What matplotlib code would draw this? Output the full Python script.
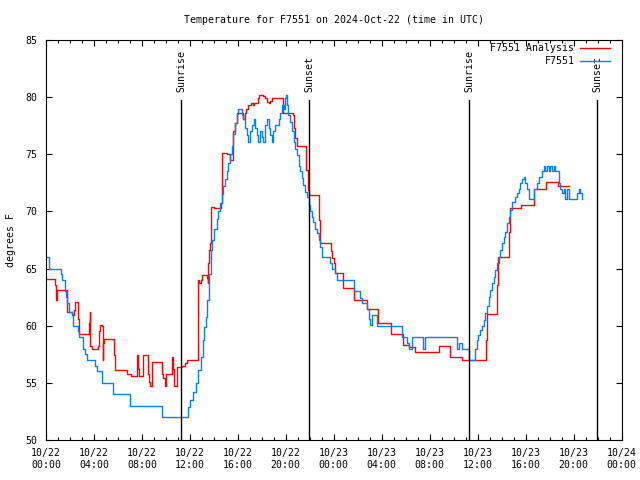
import pandas as pd
import numpy as np
from matplotlib import pyplot as plt
import matplotlib.dates as mdates

# hours since 2024-10-22 00:00 UTC, value holds until the next point
obs_hours = [0.11, 0.27, 1.23, 1.33, 1.58, 1.67, 1.78, 1.95, 2.15, 2.28, 2.64, 2.75, 3.07, 3.26,
             3.45, 4.09, 4.24, 4.70, 5.62, 7.01, 9.66, 11.88, 12.02, 12.29, 12.52, 12.71, 12.91,
             13.08, 13.21, 13.35, 13.46, 13.63, 13.75, 13.88, 14.05, 14.25, 14.38, 14.52, 14.67,
             14.80, 14.94, 15.08, 15.22, 15.36, 15.48, 15.63, 15.77, 15.92, 16.05, 16.34, 16.47,
             16.61, 16.75, 16.82, 17.03, 17.17, 17.31, 17.45, 17.59, 17.72, 17.86, 18.00, 18.13,
             18.28, 18.42, 18.56, 18.70, 18.84, 18.97, 19.11, 19.40, 19.54, 19.68, 19.81, 19.95,
             20.03, 20.09, 20.22, 20.36, 20.50, 20.65, 20.79, 20.93, 21.06, 21.20, 21.34, 21.47,
             21.61, 21.77, 21.90, 22.04, 22.18, 22.31, 22.45, 22.59, 22.73, 22.88, 23.02, 23.70,
             23.84, 24.13, 24.27, 25.65, 26.21, 26.35, 26.77, 26.90, 27.04, 27.18, 27.61, 29.69,
             30.11, 30.24, 30.53, 31.44, 31.64, 34.28, 34.41, 34.70, 35.25, 35.81, 35.95, 36.06,
             36.23, 36.37, 36.50, 36.64, 36.78, 36.91, 37.06, 37.21, 37.34, 37.48, 37.62, 37.75,
             37.89, 38.03, 38.18, 38.32, 38.46, 38.59, 38.73, 38.87, 39.14, 39.28, 39.43, 39.57,
             39.71, 39.84, 39.98, 40.12, 40.26, 40.68, 40.96, 41.09, 41.37, 41.51, 41.66, 41.80,
             41.93, 42.07, 42.21, 42.34, 42.48, 42.76, 42.91, 43.05, 43.18, 43.32, 43.46, 43.59,
             44.30, 44.43, 44.57, 44.71]
obs_temp = [66, 65, 64.5, 64, 63, 62.5, 62, 61.2, 61, 60, 59.5, 59, 58, 57.5,
            57, 56.5, 56, 55, 54, 53, 52, 52.9, 53.5, 54.2, 55.0, 56.1, 57.3,
            58.75, 59.9, 60.8, 62.25, 64.5, 66.6, 67.5, 68.5, 69.3, 70.0, 70.7, 71.5,
            72.2, 72.8, 73.5, 74.2, 75.0, 75.7, 76.8, 77.7, 78.5, 79.0, 78.4, 78.1,
            77.3, 76.7, 76.1, 77.0, 77.6, 78.1, 77.3, 76.7, 76.1, 77.0, 76.5, 76.1,
            77.6, 78.1, 77.3, 76.7, 76.1, 77.0, 77.6, 78.1, 78.6, 79.3, 79.0, 79.9,
            80.2, 79.3, 78.4, 77.8, 77.0, 76.1, 75.5, 74.9, 74.0, 73.5, 72.9, 72.3,
            71.7, 71.3, 70.6, 70.0, 69.5, 69.1, 68.5, 68.1, 67.5, 66.9, 66.0, 65.5,
            65.0, 64.6, 64.0, 63.0, 62.4, 62.0, 61.5, 60.6, 60.1, 60.9, 60.0, 59.0,
            58.5, 58.0, 59.0, 58.0, 59.0, 58.0, 58.5, 58.0, 57.0, 58.0, 58.75, 59.2,
            59.6, 60.0, 60.5, 61.1, 61.7, 62.5, 63.1, 63.7, 64.3, 64.9, 65.5, 66.0,
            66.6, 67.2, 67.8, 68.2, 69.0, 69.5, 70.1, 70.85, 71.3, 71.6, 72.0, 72.5,
            72.8, 73.0, 72.5, 72.0, 71.1, 72.0, 72.5, 73.0, 73.5, 74.0, 73.5, 74.0,
            73.5, 74.0, 73.5, 74.0, 73.5, 72.5, 72.0, 71.6, 72.0, 71.1, 72.0, 71.1,
            71.6, 72.0, 71.6, 71.1]

ana_hours = [0.06, 0.75, 0.81, 0.90, 1.72, 2.20, 2.36, 2.42, 2.69, 2.75, 3.59, 3.65, 3.70, 3.86,
             4.37, 4.45, 4.51, 4.67, 4.73, 4.78, 4.84, 5.68, 5.74, 6.79, 7.07, 7.57, 7.71, 7.77,
             8.12, 8.51, 8.62, 8.68, 8.88, 9.68, 9.79, 9.93, 10.02, 10.54, 10.63, 10.71, 10.96,
             11.33, 11.60, 11.74, 12.66, 12.71, 12.80, 12.91, 13.00, 13.41, 13.50, 13.55, 13.63,
             13.69, 13.75, 14.05, 14.58, 14.70, 15.08, 15.36, 15.63, 15.77, 15.97, 16.39, 16.61,
             16.67, 16.88, 17.12, 17.26, 17.31, 17.72, 17.78, 18.13, 18.28, 18.42, 18.56, 18.70,
             18.84, 19.73, 20.60, 20.65, 20.79, 20.93, 21.71, 21.82, 21.90, 22.78, 22.88, 23.76,
             23.84, 23.98, 24.13, 24.73, 25.71, 26.77, 27.66, 28.78, 29.74, 30.24, 30.74, 32.75,
             33.67, 34.70, 36.70, 36.75, 37.62, 37.67, 38.65, 38.67, 39.65, 40.74, 41.74, 42.68,
             43.59]
ana_temp = [64.1, 63.6, 62.25, 63.1, 61.2, 60.9, 61.4, 62.1, 60.6, 59.3, 60.2, 61.2, 58.2, 58.0,
            58.2, 59.5, 60.1, 60.0, 57.0, 58.5, 58.8, 57.4, 56.1, 55.8, 55.6, 57.4, 56.2, 55.6,
            57.4, 55.8, 55.1, 54.7, 56.8, 55.8, 55.4, 54.7, 55.8, 57.3, 56.2, 54.7, 56.4,
            56.5, 56.7, 57.0, 60.5, 64.0, 63.7, 64.0, 64.4, 64.2, 63.7, 65.5, 66.6,
            67.2, 70.4, 70.3, 70.7, 75.1, 75.0, 74.5, 77.0, 77.7, 78.6, 78.1, 78.6,
            79.0, 79.3, 79.5, 79.3, 79.5, 79.9, 80.2, 80.1, 79.9, 79.6, 79.5, 79.7,
            79.9, 78.6, 78.4, 77.3, 76.4, 75.7, 73.6, 71.9, 71.4, 69.25, 67.2, 66.5,
            65.9, 65.5, 64.6, 63.3, 62.25, 61.5, 60.2, 59.3, 58.3, 58.1, 57.7, 58.2,
            57.3, 57.0, 58.75, 61.0, 63.6, 66.0, 68.2, 70.3, 70.6, 72.0, 72.6, 72.2,
            72.2]

sun_hours = [11.27, 21.95, 35.31, 45.99]
sun_labels = ['Sunrise', 'Sunset', 'Sunrise', 'Sunset']

base = pd.Timestamp('2024-10-22 00:00')
def to_time(hours):
    return mdates.date2num((base + pd.to_timedelta(hours, unit='h')).to_pydatetime())

plt.rcParams['font.family'] = 'DejaVu Sans Mono'
fs = 7.1

fig = plt.figure(figsize=(6.4, 4.8), dpi=100)
ax = fig.add_axes([46 / 640, 40 / 480, 575.5 / 640, 400 / 480])

ax.step(to_time(ana_hours), ana_temp, where='post', color='#ff0000', lw=1.0, label='F7551 Analysis')
ax.step(to_time(obs_hours), obs_temp, where='post', color='#0080ff', lw=1.0, label='F7551')

for h, lab in zip(sun_hours, sun_labels):
    t = to_time([h])[0]
    ax.axvline(t, ymin=0, ymax=0.85, color='black', lw=1.0)
    ax.text(t, 0.87, lab, rotation=90, ha='center', va='bottom', fontsize=fs,
            transform=ax.get_xaxis_transform())

ax.set_xlim(to_time([0, 48]))
ax.set_ylim(50, 85)
ax.set_yticks(np.arange(50, 86, 5))
ax.xaxis.set_major_locator(mdates.HourLocator(byhour=range(0, 24, 4)))
ax.xaxis.set_minor_locator(mdates.HourLocator())
ax.xaxis.set_major_formatter(mdates.DateFormatter('%m/%d\n%H:%M'))

ax.tick_params(which='both', direction='in', top=True, right=True, labelsize=fs, width=0.8)
ax.tick_params(which='major', length=4)
ax.tick_params(which='minor', length=2.2)
ax.tick_params(axis='x', pad=6)
ax.tick_params(axis='y', pad=6)
for s in ax.spines.values():
    s.set_linewidth(0.8)

ax.set_ylabel('degrees F', fontsize=fs, labelpad=7)
ax.set_title('Temperature for F7551 on 2024-Oct-22 (time in UTC)', fontsize=fs, pad=12)

ax.legend(loc='upper right', bbox_to_anchor=(1 - 11.5 / 575.5, 1 - 3 / 400), markerfirst=False,
          frameon=False, fontsize=fs, handlelength=3.0, handletextpad=0.6, labelspacing=0.3,
          borderaxespad=0, borderpad=0)

plt.savefig('out.png', dpi=100)
